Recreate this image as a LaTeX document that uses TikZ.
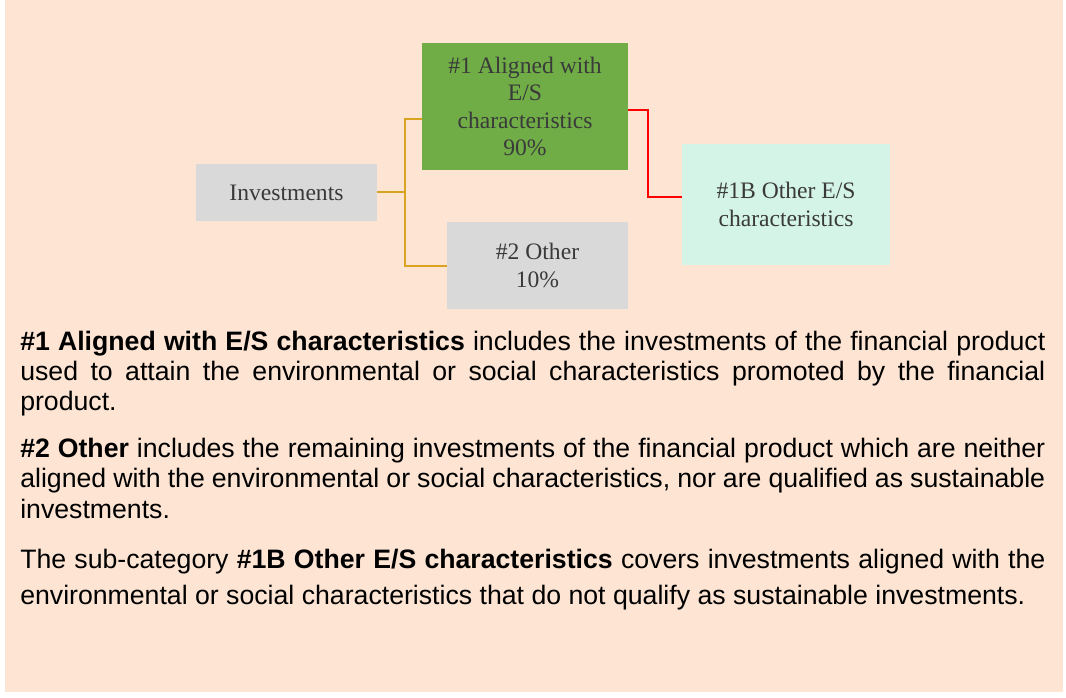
\documentclass[tikz,border=0pt]{standalone}
\usepackage{fontspec}
\setmainfont{Liberation Serif}
\newfontfamily\notefont{Liberation Sans}
\begin{document}
\begin{tikzpicture}[x=0.75pt,y=-0.75pt,
  box/.style={rectangle,inner sep=0pt,align=center,text=boxtext,font=\fontsize{17.7}{20.6}\selectfont},
  note/.style={anchor=base west,inner sep=0pt,text width=768.75pt,align=justify,text=black},
  branch/.style={goldline,line width=1.5pt},
  subbranch/.style={red,line width=1.1pt}]
\definecolor{peach}{HTML}{FDE4D3}
\definecolor{boxgray}{HTML}{D9D9D9}
\definecolor{alignedgreen}{HTML}{70AD47}
\definecolor{othermint}{HTML}{D4F4E8}
\definecolor{goldline}{HTML}{D9A521}
\definecolor{boxtext}{HTML}{3A3A3A}
\useasboundingbox (0,0) rectangle (1066,698);
\fill[white] (0,0) rectangle (1066,698);
\fill[peach] (5,0) rectangle (1063,692);
% category tree
\node[box,fill=boxgray,minimum width=135.75pt,minimum height=42.75pt] (inv) at (286.5,192.5) {Investments};
\node[box,fill=alignedgreen,minimum width=154.5pt,minimum height=95.25pt] (aligned) at (525,106.5) {\#1 Aligned with\\E/S\\characteristics\\90\%};
\node[box,fill=boxgray,minimum width=135.75pt,minimum height=65.25pt] (other) at (537.5,265.5) {\#2 Other\\10\%};
\node[box,fill=othermint,minimum width=156pt,minimum height=90.75pt] (otheres) at (786,204.5) {\#1B Other E/S\\characteristics};
\coordinate (split) at (405,192);
\coordinate (redknee) at (648,197);
\draw[branch] (inv.east |- split) -- (split);
\draw[branch] (aligned.west |- 0,119) -| (split) |- (other.west |- 0,266);
\draw[subbranch] (aligned.east |- 0,110) -| (redknee) -- (otheres.west |- redknee);
% explanations
\node[note,font=\notefont\fontsize{20}{22.5}\selectfont] (notealigned) at (20,350) {\textbf{\#1 Aligned with E/S characteristics} includes the investments of the financial product\linebreak used to attain the environmental or social characteristics promoted by the financial\linebreak product.};
\node[note,font=\notefont\fontsize{20}{22.9}\selectfont] (noteother) at (20,457) {\textbf{\#2 Other} includes the remaining investments of the financial product which are neither\linebreak aligned with the environmental or social characteristics, nor are qualified as sustainable\linebreak investments.};
\node[note,font=\notefont\fontsize{20}{27}\selectfont] (notesub) at (20,568) {The sub-category \textbf{\#1B Other E/S characteristics} covers investments aligned with the\linebreak environmental or social characteristics that do not qualify as sustainable investments.};
\end{tikzpicture}
\end{document}
